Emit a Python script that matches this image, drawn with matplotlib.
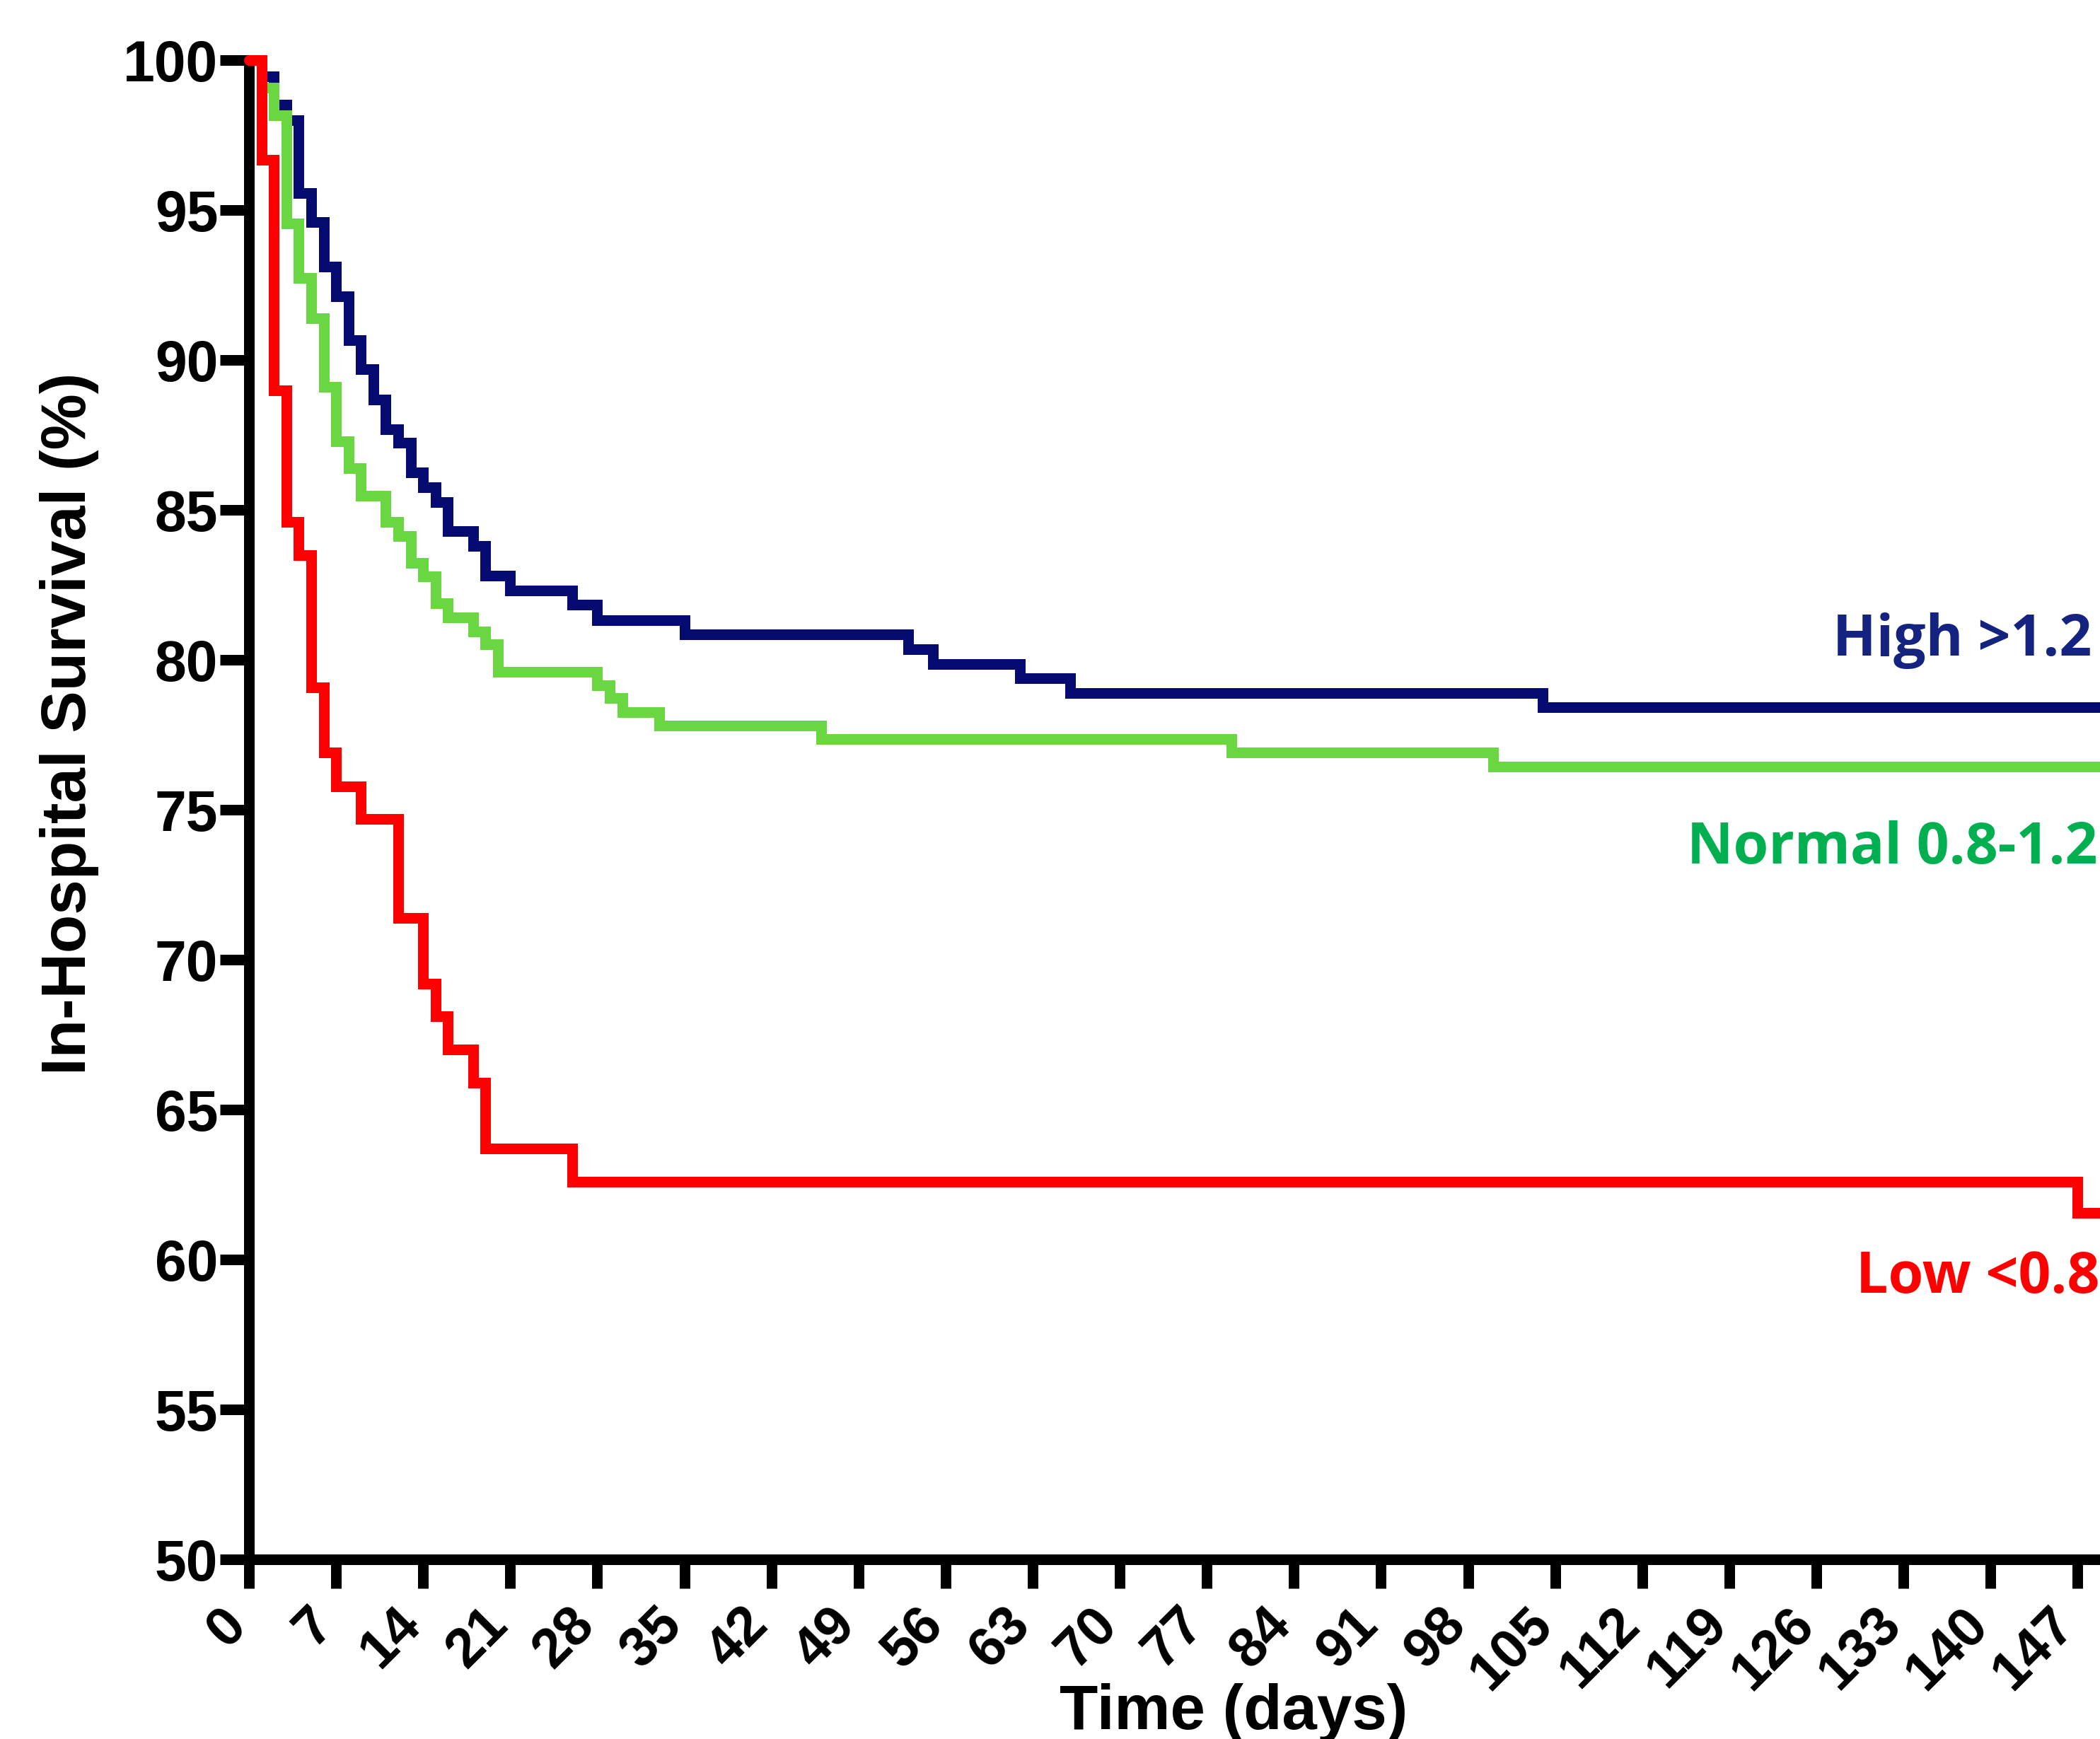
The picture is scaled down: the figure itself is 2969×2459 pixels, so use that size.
import numpy as np
import matplotlib
matplotlib.use('Agg')
import matplotlib.pyplot as plt
import matplotlib.transforms as mtransforms

# Kaplan-Meier steps (day of drop, survival % after drop)
high_days = [0, 1, 2, 3, 4, 5, 6, 7, 8, 9, 10, 11, 12, 13, 14, 15, 16, 18, 19, 21,
             26, 28, 35, 53, 55, 62, 66, 104]
high_surv = [100, 99.46, 98.51, 98.0, 95.57, 94.59, 93.11, 92.13, 90.65, 89.69, 88.69,
             87.7, 87.23, 86.25, 85.75, 85.26, 84.29, 83.8, 82.81, 82.31,
             81.84, 81.33, 80.86, 80.36, 79.87, 79.38, 78.89, 78.41]

normal_days = [0, 1, 2, 3, 4, 5, 6, 7, 8, 9, 11, 12, 13, 14, 15, 16, 18, 19, 20,
               28, 29, 30, 33, 46, 79, 100]
normal_surv = [100, 99.08, 98.17, 94.55, 92.74, 91.38, 89.1, 87.29, 86.4, 85.47, 84.59,
               84.12, 83.23, 82.78, 81.88, 81.42, 80.95, 80.53, 79.61,
               79.14, 78.72, 78.25, 77.8, 77.36, 76.91, 76.45]

low_days = [0, 1, 2, 3, 4, 5, 6, 7, 9, 12, 14, 15, 16, 18, 19, 26, 147]
low_surv = [100, 96.68, 88.98, 84.59, 83.48, 79.08, 76.91, 75.79, 74.69, 71.40,
            69.21, 68.11, 67.0, 65.9, 63.71, 62.60, 61.55]

x_ticks = list(range(0, 148, 7))
y_ticks = list(range(50, 101, 5))

labels = ['High >1.2', 'Normal 0.8-1.2', 'Low <0.8']
label_x = [127.3, 115.6, 129.2]
label_y = [80.14, 73.21, 58.89]
label_colors = ['#13237F', '#00B050', '#FF0000']

line_colors = ['#050A70', '#6AD742', '#FF0000']

XMAX = 158.3
LW = 10.8

fig = plt.figure(figsize=(29.69, 24.59), dpi=100)
# the original is cropped on the right, so the axes run past the figure edge
ax = fig.add_axes([0.11856, 0.10329, 0.9377, 0.86214])

series = [(high_days, high_surv), (normal_days, normal_surv), (low_days, low_surv)]
for i, (d, s) in enumerate(series):
    d = list(d) + [XMAX]
    s = list(s) + [s[-1]]
    ax.step(d, s, where='post', color=line_colors[i], lw=LW, clip_on=False,
            solid_joinstyle='miter', solid_capstyle='round' if i == 2 else 'butt',
            zorder=3 + i)

ax.set_xlim(0, XMAX)
ax.set_ylim(50, 100)
ax.set_xticks(x_ticks)
ax.set_yticks(y_ticks)

for side in ['top', 'right']:
    ax.spines[side].set_visible(False)
for side in ['left', 'bottom']:
    ax.spines[side].set_linewidth(LW)
    ax.spines[side].set_capstyle('projecting')

tick_font = dict(family='Liberation Sans', weight='bold')
ax.tick_params(axis='both', length=29.5, width=LW, color='black')
ax.tick_params(axis='y', pad=2, labelsize=58)
ax.tick_params(axis='x', pad=10, labelsize=56)
for lab in ax.get_yticklabels():
    lab.set(**tick_font)
# nudge the rotated day labels a little to the right, as in the original
shift = mtransforms.ScaledTranslation(10 / 100, 0, fig.dpi_scale_trans)
for lab in ax.get_xticklabels():
    lab.set(**tick_font, rotation=45, ha='right', va='top')
    lab.set_transform(lab.get_transform() + shift)

ax.set_xlabel('Time (days)', fontsize=64, fontweight='bold', family='Liberation Sans')
ax.xaxis.set_label_coords(0.5, -0.0825)
ax.set_ylabel('In-Hospital Survival (%)', fontsize=64, fontweight='bold',
              family='Liberation Sans', va='center')
ax.yaxis.set_label_coords(-0.0912, 0.5575)

for i, txt in enumerate(labels):
    ax.text(label_x[i], label_y[i], txt, color=label_colors[i], fontsize=58,
            fontweight='bold', family='Open Sans', ha='left', va='baseline')

fig.savefig('out.png', dpi=100)
